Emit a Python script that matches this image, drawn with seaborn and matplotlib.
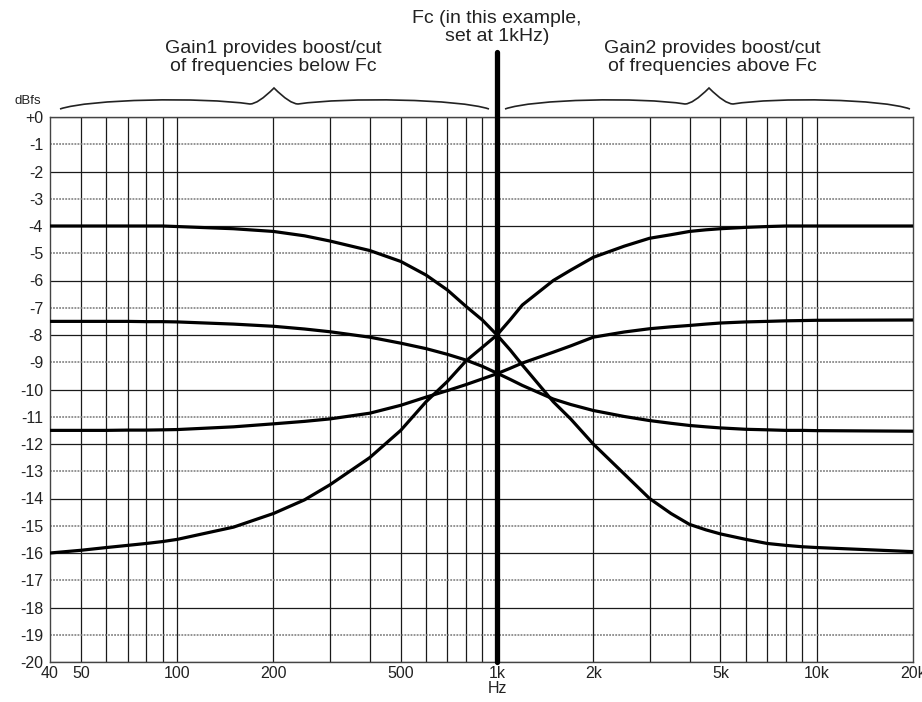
import numpy as np
import pandas as pd
import seaborn as sns
import matplotlib
matplotlib.use("Agg")
import matplotlib.pyplot as plt
from matplotlib.path import Path
from matplotlib.patches import PathPatch

# ======================
# DATA
# ======================
freqs = [40, 50, 60, 70, 80, 90, 100, 150, 200, 250, 300, 400, 500, 600, 700,
         800, 900, 1000, 1100, 1200, 1500, 1700, 2000, 2500, 3000, 3500, 4000,
         4500, 5000, 6000, 7000, 8000, 9000, 10000, 20000]

# Gain1 -4dB / Gain2 -16dB
curve_a = [-4.0, -4.0, -4.0, -4.0, -4.0, -4.0, -4.02, -4.1, -4.2, -4.36, -4.55,
           -4.9, -5.3, -5.8, -6.35, -6.95, -7.45, -8.0, -8.55, -9.1, -10.45,
           -11.08, -12.0, -13.1, -14.0, -14.55, -14.95, -15.15, -15.3, -15.5,
           -15.65, -15.72, -15.77, -15.8, -15.95]
# Gain1 -16dB / Gain2 -4dB
curve_b = [-16.0, -15.9, -15.8, -15.72, -15.65, -15.58, -15.5, -15.05, -14.55,
           -14.05, -13.5, -12.5, -11.5, -10.45, -9.7, -8.95, -8.45, -8.0, -7.44,
           -6.9, -6.0, -5.62, -5.15, -4.74, -4.45, -4.32, -4.2, -4.14, -4.1,
           -4.05, -4.02, -4.0, -4.0, -4.0, -4.0]
# Gain1 -7.5dB / Gain2 -11.5dB
curve_c = [-7.5, -7.5, -7.5, -7.5, -7.51, -7.51, -7.52, -7.6, -7.68, -7.78,
           -7.88, -8.08, -8.3, -8.5, -8.71, -8.92, -9.15, -9.4, -9.63, -9.85,
           -10.35, -10.55, -10.77, -10.99, -11.14, -11.24, -11.32, -11.37,
           -11.41, -11.46, -11.48, -11.5, -11.5, -11.51, -11.53]
# Gain1 -11.5dB / Gain2 -7.5dB
curve_d = [-11.5, -11.5, -11.5, -11.49, -11.49, -11.48, -11.47, -11.37, -11.26,
           -11.17, -11.08, -10.87, -10.58, -10.28, -10.04, -9.82, -9.61, -9.42,
           -9.22, -9.03, -8.63, -8.4, -8.08, -7.89, -7.77, -7.7, -7.65, -7.6,
           -7.56, -7.52, -7.5, -7.48, -7.47, -7.46, -7.45]

x_ticks = [40, 50, 100, 200, 500, 1000, 2000, 5000, 10000, 20000]
x_tick_labels = ["40", "50", "100", "200", "500", "1k", "2k", "5k", "10k", "20k"]
grid_freqs = [50, 60, 70, 80, 90, 100, 200, 300, 400, 500, 600, 700, 800, 900,
              1000, 2000, 3000, 4000, 5000, 6000, 7000, 8000, 9000, 10000]
y_ticks = list(range(0, -21, -1))
y_tick_labels = ["+0"] + [str(v) for v in y_ticks[1:]]

fc = 1000
left_label = "Gain1 provides boost/cut\nof frequencies below Fc"
right_label = "Gain2 provides boost/cut\nof frequencies above Fc"
fc_label = "Fc (in this example,\nset at 1kHz)"

df = pd.concat([
    pd.DataFrame({"freq": freqs, "db": vals, "curve": name})
    for name, vals in [("a", curve_a), ("b", curve_b), ("c", curve_c), ("d", curve_d)]
])

# ======================
# PLOT
# ======================
sns.set_style("white")
plt.rcParams["font.family"] = ["Liberation Sans", "DejaVu Sans"]
ink = "#222222"

fig = plt.figure(figsize=(9.22, 7.02), dpi=100)
ax = fig.add_axes([50 / 922, 1 - 662 / 702, 863 / 922, 545 / 702])

# grid
for f in grid_freqs:
    ax.axvline(f, color="#1a1a1a", lw=0.9, zorder=1)
for v in y_ticks:
    if v % 2 == 0:
        ax.axhline(v, color="#1a1a1a", lw=0.9, zorder=1)
    else:
        ax.axhline(v, color="#777777", lw=1.1, ls=(0, (1.2, 0.8)), zorder=1)

sns.lineplot(data=df, x="freq", y="db", units="curve", estimator=None,
             color="black", lw=2.3, ax=ax, zorder=3)

# Fc marker
ax.axvline(fc, ymin=0, ymax=1 + 65 / 545, color="black", lw=3.8,
           clip_on=False, zorder=4)

ax.set_xscale("log")
ax.set_xlim(40, 20000)
ax.set_ylim(-20, 0)
ax.set_xticks(x_ticks)
ax.set_xticklabels(x_tick_labels)
ax.minorticks_off()
ax.set_yticks(y_ticks)
ax.set_yticklabels(y_tick_labels)
ax.tick_params(axis="both", length=0, labelsize=11.5, colors=ink)
ax.tick_params(axis="x", pad=3)
ax.tick_params(axis="y", pad=5)
ax.set_xlabel("")
ax.set_ylabel("")
for s in ax.spines.values():
    s.set_color("#444444")
    s.set_linewidth(1.0)

trans = ax.get_xaxis_transform()
ax.text(fc, -0.049, "Hz", transform=trans, ha="center", va="center",
        fontsize=11.5, color=ink)
ax.text(-0.026, 1.029, "dBfs", transform=ax.transAxes, ha="center",
        va="center", fontsize=9.5, color=ink)

ax.text(200, 1.109, left_label, transform=trans, ha="center", va="center",
        fontsize=14, color=ink, linespacing=1.08)
ax.text(4700, 1.109, right_label, transform=trans, ha="center", va="center",
        fontsize=14, color=ink, linespacing=1.08)
ax.text(fc, 1.164, fc_label, transform=trans, ha="center", va="center",
        fontsize=14, color=ink, linespacing=1.08)


# curly braces, drawn in pixel-like units above the axes
def brace(x0, xm, x1):
    def p(x, y):
        return ((x - 50) / 863, 1 + (117 - y) / 545)
    lh = xm - x0
    rh = x1 - xm
    verts = [p(x0, 109), p(x0 + 0.14 * lh, 99), p(x0 + 0.66 * lh, 97), p(xm - 24, 104),
             p(xm - 16, 104), p(xm, 88),
             p(xm + 16, 104), p(xm + 24, 104),
             p(x1 - 0.66 * rh, 97), p(x1 - 0.14 * rh, 99), p(x1, 109)]
    codes = [Path.MOVETO, Path.CURVE4, Path.CURVE4, Path.CURVE4,
             Path.CURVE3, Path.CURVE3,
             Path.CURVE3, Path.CURVE3,
             Path.CURVE4, Path.CURVE4, Path.CURVE4]
    ax.add_patch(PathPatch(Path(verts, codes), transform=ax.transAxes,
                           fill=False, lw=1.2, edgecolor=ink, clip_on=False))


brace(60, 274, 489)
brace(505, 709, 910)

fig.savefig("out.png", dpi=100)
